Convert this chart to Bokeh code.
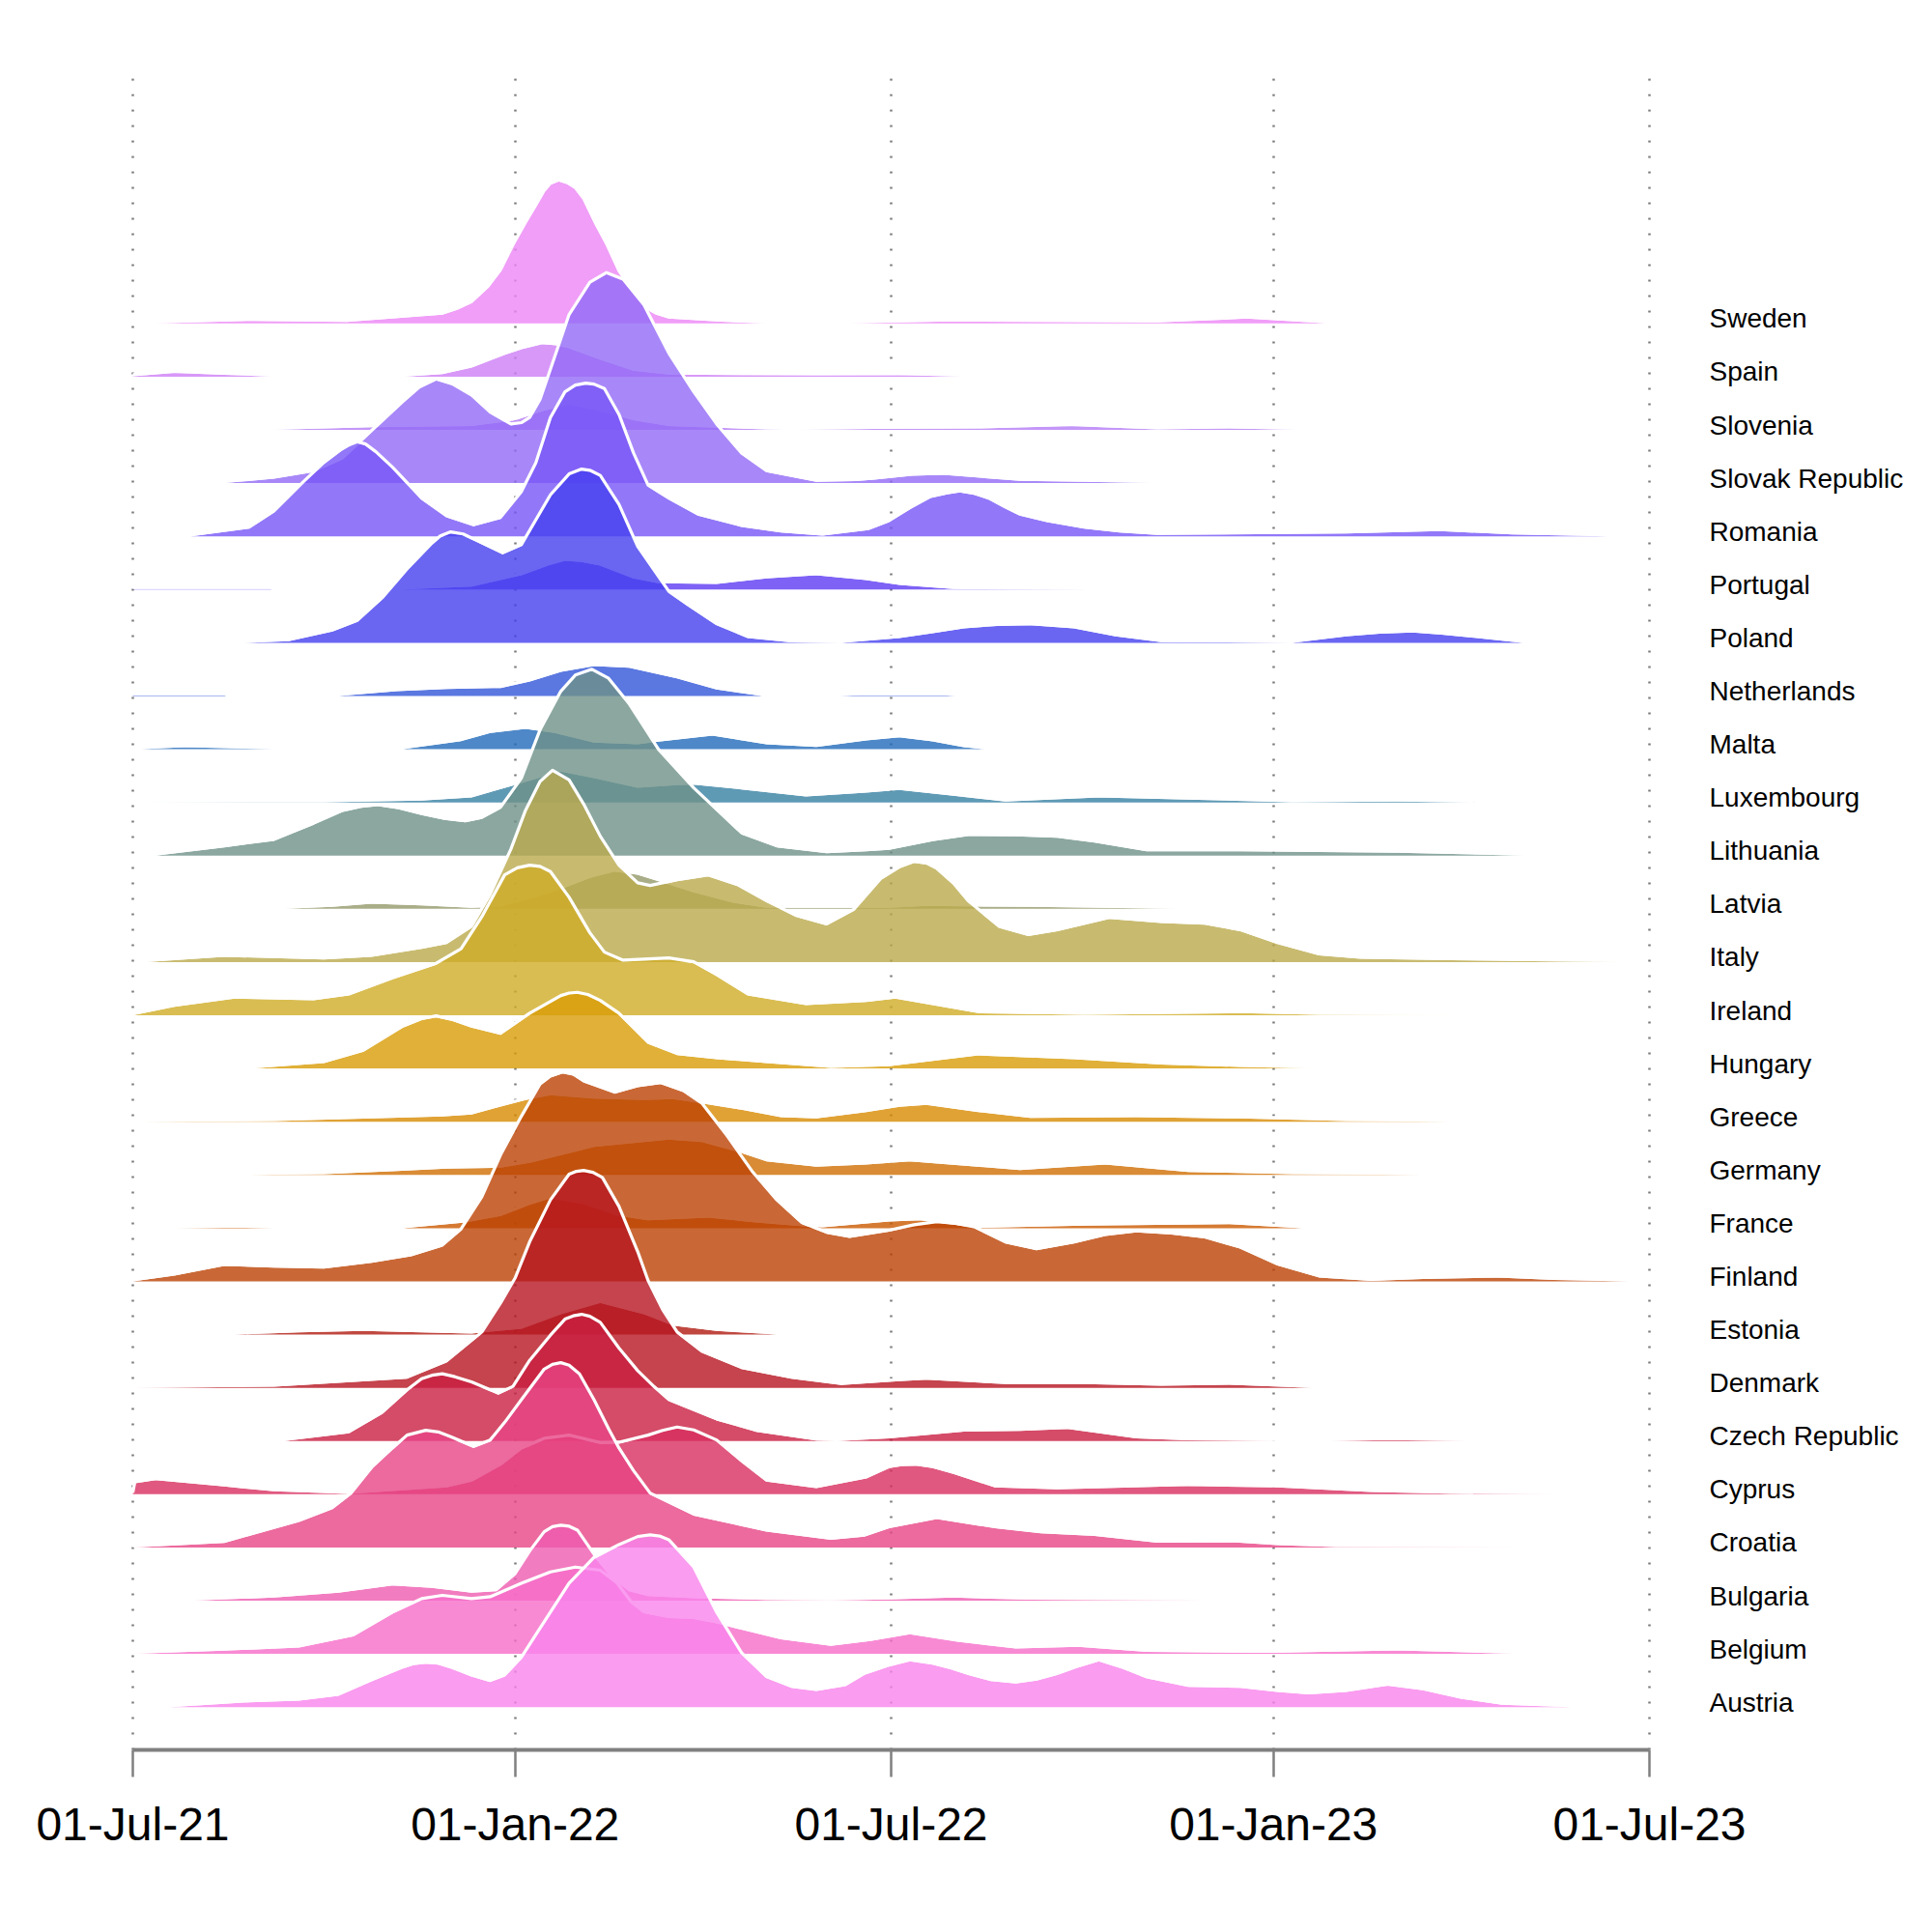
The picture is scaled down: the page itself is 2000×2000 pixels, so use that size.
import pandas as pd
from bokeh.plotting import figure
from bokeh.models import Range1d, FixedTicker, LinearAxis
from bokeh.embed import file_html
from bokeh.resources import INLINE

# ---------------- data (x: days since 01-Jul-2021, y: density, arbitrary units) -------------
start_date = pd.Timestamp("2021-07-01")
tick_dates = ["2021-07-01", "2022-01-01", "2022-07-01", "2023-01-01", "2023-07-01"]
tick_labels = ["01-Jul-21", "01-Jan-22", "01-Jul-22", "01-Jan-23", "01-Jul-23"]

countries = ["Austria", "Belgium", "Bulgaria", "Croatia", "Cyprus", "Czech Republic",
             "Denmark", "Estonia", "Finland", "France", "Germany", "Greece", "Hungary",
             "Ireland", "Italy", "Latvia", "Lithuania", "Luxembourg", "Malta",
             "Netherlands", "Poland", "Portugal", "Romania", "Slovak Republic",
             "Slovenia", "Spain", "Sweden"]

sweden_days = [11, 58, 103, 149, 156, 163, 171, 177, 183, 189, 194, 198, 201, 205, 209, 213, 217, 223, 228, 234, 241, 247, 252, 258, 281, 305, 344, 394, 493, 536, 575]
sweden_dens = [0, 2.7, 1.7, 9, 14, 21, 37, 54, 80, 103, 121, 136, 143.6, 147, 144.3, 139, 127.6, 101, 81, 53, 31, 15, 9, 5, 2, 0, 0, 2, 1, 5, 0]

spain_days = [0, 20, 44, 68, 130, 149, 163, 179, 188, 197, 204, 210, 225, 241, 258, 329, 369, 402]
spain_dens = [0.5, 4, 2, 0, 0, 2.7, 9.4, 22.7, 29, 33.7, 32.5, 29.4, 17.7, 6.1, 2.1, 1.4, 1.7, 0]

slovenia_days = [66, 115, 163, 184, 198, 210, 224, 241, 258, 305, 317, 357, 407, 452, 493, 528, 563]
slovenia_dens = [0, 2.8, 4, 10, 20, 26, 20, 10, 4, 0.5, 0, 1, 1.5, 4, 0.5, 1.5, 0]

slovak_days = [44, 68, 87, 101, 115, 130, 138, 146, 154, 163, 172, 182, 187, 191, 196, 201, 210, 220, 228, 236, 246, 258, 270, 281, 293, 305, 329, 348, 357, 375, 390, 405, 427, 458, 493]
slovak_dens = [0, 4.6, 11.3, 24.6, 53, 83, 98, 106.3, 101, 89.6, 72, 59.6, 61, 66.3, 85, 116.3, 173, 206.3, 216.3, 209.6, 183, 133, 93, 59.6, 29.6, 11.3, 1.3, 2, 3.6, 7.5, 8.6, 6, 2.3, 1.3, 0]

romania_days = [28, 56, 68, 82, 92, 100, 104, 108, 112, 117, 125, 139, 151, 164, 177, 187, 194, 201, 208, 213, 218, 222, 227, 234, 241, 248, 258, 272, 293, 312, 332, 354, 364, 374, 384, 392, 398, 405, 412, 420, 427, 440, 458, 475, 493, 584, 629, 664, 710]
romania_dens = [0, 8, 24.7, 54.7, 75, 88, 93, 96.4, 94, 86, 70, 38, 19.7, 10.4, 18, 44.7, 74.7, 121.4, 148, 155, 157, 156, 151.4, 124.7, 84.7, 51.4, 38, 21.4, 9.7, 4, 0.7, 6.4, 14.7, 28, 39.7, 43.4, 45.4, 43, 38, 28.7, 21.4, 14.7, 8, 4, 1.4, 3, 5.4, 2, 0]

portugal_days = [0, 66, 67, 130, 163, 187, 200, 208, 216, 225, 241, 253, 281, 305, 329, 353, 369, 395, 463]
portugal_dens = [0.5, 0.5, 0, 0, 3.1, 14.8, 25, 29.8, 28.5, 24.8, 11.5, 6.5, 5.8, 11.5, 14.8, 9.8, 4.8, 0.5, 0]

poland_days = [54, 75, 96, 108, 120, 132, 144, 148, 153, 159, 165, 178, 187, 201, 210, 216, 220, 225, 234, 243, 258, 267, 281, 296, 317, 341, 369, 385, 400, 416, 432, 453, 473, 495, 558, 584, 600, 616, 630, 647, 669]
poland_dens = [0, 1.6, 11.6, 21.6, 44.9, 74.9, 101.6, 109, 113.2, 111, 104.9, 91.6, 99.9, 151.6, 173.2, 178.2, 177, 171.6, 141.6, 98.2, 51.6, 38.2, 18.2, 4.9, 0.5, 0, 4.9, 10, 14.9, 17.5, 18.2, 14.9, 6.6, 0.6, 0, 6.6, 9.5, 10.6, 8.5, 4.9, 0]

netherlands_days = [0, 44, 45, 99, 127, 151, 177, 191, 206, 222, 239, 262, 281, 303, 340, 350, 390, 396]
netherlands_dens = [0.7, 0.7, 0, 0, 5, 7.3, 8.3, 15, 25, 31, 29.3, 18.3, 6.7, 0, 0, 0.7, 0.7, 0]

malta_days = [4, 25, 68, 130, 158, 172, 189, 203, 222, 243, 253, 279, 305, 329, 353, 369, 385, 400, 410]
malta_dens = [0, 2, 0, 0, 8.4, 16.8, 21.1, 16.8, 6.8, 5.1, 7.8, 14.1, 5.1, 2.4, 9.1, 12.4, 8, 2, 0]

luxembourg_days = [0, 92, 139, 163, 182, 206, 222, 243, 262, 270, 293, 324, 353, 369, 395, 420, 465, 508, 558, 609, 647]
luxembourg_dens = [0, 0.2, 1.9, 5.2, 16.9, 31.9, 25.2, 15.2, 17.9, 18.5, 13.5, 6.2, 10.2, 12.9, 6.9, 0.9, 5.2, 2.9, 0.2, 0.9, 0]

lithuania_days = [11, 44, 68, 87, 101, 110, 118, 128, 139, 150, 160, 168, 177, 187, 196, 206, 213, 221, 229, 239, 253, 270, 293, 310, 334, 353, 364, 385, 402, 425, 445, 463, 488, 533, 609, 670]
lithuania_dens = [0, 8.6, 15.3, 32, 45.3, 49.5, 51.3, 48, 42, 37, 34.6, 38, 48.6, 78.6, 128.6, 168.6, 185.3, 191.3, 182, 155.3, 108.6, 68.6, 22, 8.6, 2.6, 4.6, 6, 15, 20.3, 20, 18.6, 13.6, 4.6, 4.6, 3, 0]

latvia_days = [73, 96, 115, 139, 163, 177, 191, 206, 220, 232, 243, 258, 270, 289, 305, 364, 382, 432, 503]
latvia_dens = [0, 2, 5.4, 3.7, 1.1, 2, 10.4, 20.4, 32, 38.7, 35.4, 25.4, 17.1, 6.4, 1.1, 1, 3, 2, 0]

italy_days = [6, 44, 92, 115, 139, 151, 163, 172, 182, 189, 196, 202, 210, 217, 225, 234, 243, 249, 262, 277, 291, 305, 319, 334, 347, 360, 369, 376, 382, 387, 395, 402, 417, 431, 445, 470, 495, 516, 533, 551, 571, 591, 634, 684, 720]
italy_dens = [0, 5.4, 2.7, 5.4, 13.7, 18.7, 35.4, 68.7, 115.4, 155.4, 185.4, 197, 187, 162, 128.7, 98.7, 80.4, 77.7, 83.7, 88.7, 78.7, 62, 47, 38, 53, 85, 97, 102.7, 101, 95.4, 80, 62, 35.4, 27, 32, 44.7, 40.4, 38.7, 32, 18.7, 7, 3.4, 2, 0.7, 0]

ireland_days = [0, 20, 49, 87, 104, 125, 146, 158, 168, 179, 185, 191, 196, 201, 210, 220, 227, 236, 246, 258, 270, 281, 296, 324, 353, 367, 407, 458, 533, 571, 647]
ireland_dens = [0, 8.8, 17.2, 15.5, 20.5, 37.2, 52.2, 67.2, 100.5, 143.8, 151, 153.8, 152.5, 147.2, 120.5, 83.8, 63.8, 55.5, 56.5, 57.8, 53.8, 40.5, 20.5, 10.5, 13.8, 17.2, 2.2, 0.5, 2.2, 0.5, 0]

hungary_days = [58, 92, 111, 130, 139, 146, 154, 163, 177, 191, 206, 210, 214, 219, 225, 234, 248, 262, 281, 305, 336, 364, 407, 453, 495, 533, 568]
hungary_dens = [0, 5.6, 17.3, 42.3, 50, 52.9, 49, 42.3, 34.9, 55.6, 73.9, 76.5, 77.3, 75, 68.9, 55.6, 25.6, 13.9, 9.6, 5.6, 0.6, 2.3, 13.6, 9.6, 4, 1.6, 0]

greece_days = [4, 68, 115, 149, 163, 177, 189, 201, 222, 246, 260, 274, 293, 312, 329, 353, 369, 382, 407, 432, 483, 533, 584, 634]
greece_dens = [0, 0.7, 3.4, 5.4, 7.4, 15.7, 22.4, 27.4, 24, 22.4, 23.4, 19, 12.4, 4.7, 3.4, 10, 15.5, 17.4, 10, 4, 4.7, 3.4, 0.7, 0]

germany_days = [56, 92, 127, 151, 177, 191, 210, 222, 246, 258, 274, 291, 305, 329, 353, 374, 427, 468, 508, 558, 621]
germany_dens = [0, 0.8, 4.1, 6.5, 7.5, 12.5, 22.5, 29.1, 34.1, 36.5, 34.1, 24.1, 14.1, 8.5, 10.8, 14.1, 5.1, 10.8, 3.1, 0.8, 0]

france_days = [20, 44, 68, 130, 160, 177, 191, 201, 217, 234, 248, 277, 300, 324, 332, 364, 379, 407, 458, 528, 563]
france_dens = [0, 0.5, 0, 0, 5.9, 12.6, 24.2, 30.9, 24.9, 12.6, 8.2, 10.9, 5.9, 1.6, 0.9, 6.9, 8.2, 0.2, 2.6, 4.2, 0]

finland_days = [0, 20, 44, 68, 92, 115, 134, 149, 158, 168, 177, 187, 196, 201, 207, 212, 217, 232, 243, 254, 265, 274, 286, 298, 310, 322, 334, 345, 364, 376, 387, 396, 405, 420, 435, 453, 468, 483, 500, 516, 533, 551, 571, 596, 621, 657, 684, 720]
finland_dens = [0, 6, 16, 14.3, 13.3, 19.3, 26, 36, 52.7, 86, 129.3, 169.3, 202.7, 211, 215.3, 213, 206, 194.3, 201, 204.3, 196, 182.7, 149.3, 112.7, 82.7, 59.3, 49.3, 45, 51.4, 57, 60.2, 58.5, 55, 39.2, 32.2, 39.2, 47, 50.7, 48.5, 44.4, 33.9, 16.4, 4.1, 0.6, 2.4, 4.1, 1.6, 0]

estonia_days = [49, 80, 111, 139, 163, 187, 206, 225, 246, 260, 281, 310]
estonia_dens = [0, 2.4, 3.8, 2.4, 1.1, 6.1, 21.1, 32.8, 21.1, 9.4, 3.8, 0]

denmark_days = [0, 68, 132, 151, 168, 177, 184, 191, 201, 210, 213.5, 217, 221.5, 226, 234, 243, 248, 255, 262, 274, 293, 317, 341, 369, 382, 420, 458, 495, 528, 568]
denmark_dens = [0, 1.2, 9.5, 26.2, 56.2, 86.2, 112, 149.5, 192.9, 219.5, 222.5, 223.5, 221.5, 216.2, 186.2, 139.5, 109.5, 79.5, 56.2, 36.2, 19.5, 9.5, 2.9, 7, 8.4, 3.8, 3.8, 2.1, 3.1, 0]

czech_days = [73, 104, 120, 132, 139, 144, 149, 155, 163, 176, 183, 191, 201, 208, 212, 216, 220, 225, 234, 243, 251, 258, 281, 300, 329, 339, 364, 400, 427, 450, 483, 508, 551, 576, 604, 642]
czech_dens = [0, 8, 28, 51.3, 63, 66.5, 68, 65, 59.6, 48, 55, 82, 108, 124.6, 128, 129.6, 127.5, 121.3, 94.6, 71.3, 54.6, 41.3, 21.3, 9.6, 0.6, 0, 2.8, 9.8, 10.5, 12.6, 2.8, 0.7, 0, 0, 1, 0]

cyprus_days = [0, 1, 11, 44, 68, 104, 151, 163, 177, 187, 198, 210, 225, 234, 248, 255, 262, 270, 281, 293, 305, 329, 353, 364, 370, 377, 385, 395, 415, 445, 508, 551, 596, 634, 684]
cyprus_dens = [0, 11.3, 14.6, 8, 3, 0.3, 7, 13, 29.6, 46.3, 56.3, 59.6, 52, 52.3, 59.6, 64.5, 68, 65, 54.6, 33, 13, 6.3, 16.3, 27, 29, 29.7, 27, 21, 7, 5.2, 8.7, 7, 2.4, 0.6, 0]

croatia_days = [0, 44, 80, 96, 105, 115, 125, 132, 141, 147, 153, 164, 172, 179, 187, 198, 202, 206, 210, 215, 222, 229, 234, 241, 249, 270, 305, 336, 352, 364, 387, 415, 437, 463, 493, 531, 551, 579, 679]
croatia_dens = [0, 4.7, 26.4, 39.7, 54.7, 81.4, 101.4, 114.7, 119.7, 118, 113, 103, 109.7, 128, 151.4, 183, 188, 189.7, 187, 178, 151.4, 121.4, 101.4, 78, 54.7, 33, 16.4, 8, 11.2, 19.9, 29.4, 19.9, 14.7, 11.9, 4.9, 5.2, 2.4, 0.5, 0]

bulgaria_days = [28, 68, 99, 125, 144, 163, 175, 184, 191, 198, 202, 206, 210, 214, 222, 230, 239, 248, 270, 305, 336, 364, 395, 432, 508, 520]
bulgaria_dens = [0, 3.2, 8.2, 15.8, 13.2, 8.2, 9.8, 26.5, 49.8, 69.8, 75, 76.5, 75.5, 71.5, 46.5, 24.8, 9.8, 4.8, 2.5, 0.8, 0.3, 1.3, 3.2, 1, 0.3, 0]

belgium_days = [0, 44, 80, 106, 125, 139, 149, 163, 172, 187, 201, 213, 225, 233, 240, 246, 258, 270, 281, 293, 312, 336, 355, 374, 397, 425, 455, 488, 548, 609, 634, 667]
belgium_dens = [0, 3.3, 6.6, 18, 41.6, 55.6, 59, 55.6, 57.6, 71.6, 83.3, 88.3, 85, 72, 52, 42, 37, 36, 31.6, 25, 15, 8.3, 13.3, 20.3, 12.6, 5.6, 7.4, 2, 1, 3.5, 2, 0]

austria_days = [18, 56, 80, 99, 115, 130, 135, 141, 147, 153, 163, 172, 179, 187, 194, 201, 210, 222, 234, 243, 249, 253.5, 258, 270, 281, 293, 305, 317, 329, 343, 352, 364, 374, 385, 394, 402, 413, 425, 435, 445, 455, 465, 476, 488, 508, 533, 551, 566, 584, 604, 621, 639, 659, 692]
austria_dens = [0, 5, 6.7, 11.7, 26.7, 40, 43.5, 45, 44, 40, 31.7, 26, 31.7, 50, 73.4, 96.7, 126.7, 153.4, 166.7, 175, 176.7, 175.5, 171.7, 143.4, 96.7, 54.7, 30, 20, 16.7, 21.7, 33.3, 42, 47.4, 44, 39, 33.3, 27, 24.5, 27.5, 33.3, 41, 47.4, 40, 29.8, 21, 20, 15.8, 13.3, 15.8, 22.1, 17.5, 8.8, 2.5, 0]

colors = ["#f983ec", "#f66dc9", "#ef5bb0", "#e74586", "#d82e5f", "#c91f42",
          "#b61520", "#b01a10", "#bc4204", "#cb5900", "#d06e03", "#d88b03", "#d89c06",
          "#d0ad27", "#baaa4c", "#959a6a", "#6e9188", "#3781a3", "#226aba",
          "#3256d8", "#4540ef", "#5e3bf3", "#7756f6", "#926af6",
          "#b57cf6", "#ce7ef6", "#ec86f6"]

series = [
    (austria_days, austria_dens), (belgium_days, belgium_dens), (bulgaria_days, bulgaria_dens),
    (croatia_days, croatia_dens), (cyprus_days, cyprus_dens), (czech_days, czech_dens),
    (denmark_days, denmark_dens), (estonia_days, estonia_dens), (finland_days, finland_dens),
    (france_days, france_dens), (germany_days, germany_dens), (greece_days, greece_dens),
    (hungary_days, hungary_dens), (ireland_days, ireland_dens), (italy_days, italy_dens),
    (latvia_days, latvia_dens), (lithuania_days, lithuania_dens), (luxembourg_days, luxembourg_dens),
    (malta_days, malta_dens), (netherlands_days, netherlands_dens), (poland_days, poland_dens),
    (portugal_days, portugal_dens), (romania_days, romania_dens), (slovak_days, slovak_dens),
    (slovenia_days, slovenia_dens), (spain_days, spain_dens), (sweden_days, sweden_dens),
]

# ---------------- figure ----------------
ridge_scale = 1.0 / 55.09     # density units -> row units (one row = 55.09 px)
outline_lift = 1.6 / 55.09    # white outline sits just outside the filled area
tick_days = [int((pd.Timestamp(d) - start_date).days) for d in tick_dates]
FONT = "Liberation Sans"

p = figure(width=1984, height=1984,
           x_range=Range1d(-13.48, 745.34), y_range=Range1d(-0.804, 30.617),
           output_backend="svg", toolbar_location=None, y_axis_location=None,
           min_border_left=108, min_border_right=244, min_border_top=80, min_border_bottom=173)
p.outline_line_color = None
p.background_fill_color = "white"
p.border_fill_color = "white"

p.ygrid.visible = False
p.xgrid.ticker = FixedTicker(ticks=tick_days)
p.xgrid.grid_line_color = "#7a7a7a"
p.xgrid.grid_line_width = 2.5
p.xgrid.grid_line_dash = "2 14"

xa = p.xaxis[0]
xa.ticker = FixedTicker(ticks=tick_days)
xa.major_label_overrides = {d: lab for d, lab in zip(tick_days, tick_labels)}
xa.bounds = (tick_days[0], tick_days[-1])
xa.axis_line_color = "#808080"
xa.axis_line_width = 4
xa.major_tick_line_color = "#808080"
xa.major_tick_line_width = 2.5
xa.major_tick_out = 28
xa.major_tick_in = 0
xa.minor_tick_line_color = None
xa.major_label_text_font = FONT
xa.major_label_text_font_size = "48px"
xa.major_label_text_color = "black"
xa.major_label_standoff = 22

p.extra_y_ranges = {"labels": Range1d(-0.804 - 0.09, 30.617 - 0.09)}
ya = LinearAxis(y_range_name="labels", ticker=FixedTicker(ticks=list(range(len(countries)))))
ya.major_label_overrides = {i: name for i, name in enumerate(countries)}
ya.axis_line_color = None
ya.major_tick_line_color = None
ya.minor_tick_line_color = None
ya.major_tick_out = 0
ya.major_tick_in = 0
ya.major_label_standoff = 29
ya.major_label_text_font = FONT
ya.major_label_text_font_size = "28px"
ya.major_label_text_color = "black"
p.add_layout(ya, "right")

# draw from the top row (Sweden) down to Austria so lower ridges are in front
for row in range(len(countries) - 1, -1, -1):
    days, dens = series[row]
    top = [row + v * ridge_scale for v in dens]
    p.varea(x=days, y1=[row] * len(days), y2=top, fill_color=colors[row], fill_alpha=0.8)
    p.line(x=days, y=[t + outline_lift for t in top], line_color="white",
           line_width=3.2, line_join="round")

open("out.html", "w").write(file_html(p, INLINE, title="ridgeline"))
